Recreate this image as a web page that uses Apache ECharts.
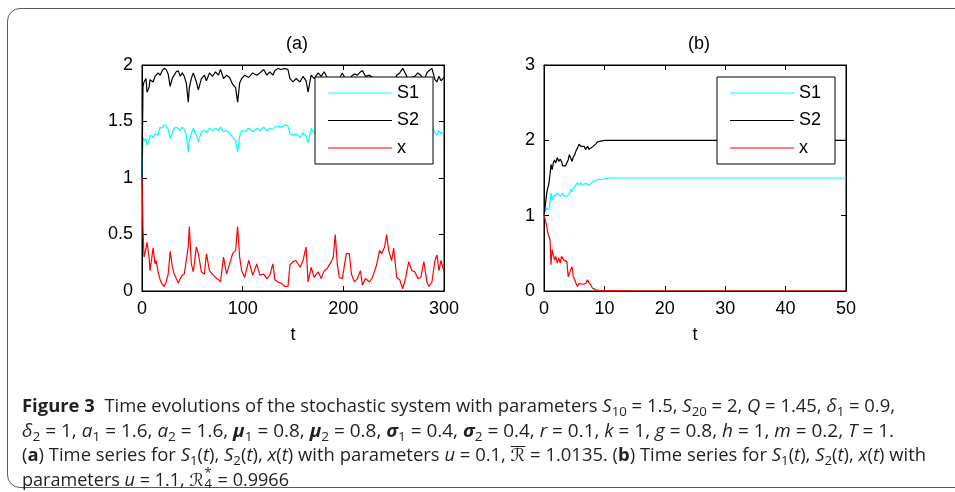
<!DOCTYPE html>
<html>
<head>
<meta charset="utf-8">
<script src="https://cdn.jsdelivr.net/npm/echarts@6.0.0/dist/echarts.min.js"></script>
<style>
  html, body { margin:0; padding:0; background:#fff; width:955px; height:492px; overflow:hidden; }
  #chart { position:absolute; left:0; top:0; width:955px; height:492px; }
  #frame { position:absolute; left:7px; top:8px; width:1000px; height:480px; border:1.5px solid #5a5a5a; border-radius:13px; box-sizing:border-box; }
  .cap { position:absolute; left:22px; white-space:nowrap; font-family:"Open Sans","DejaVu Sans",sans-serif; font-size:17.5px; color:#231f20; transform-origin:0 50%; line-height:20px; }
  .cap sub { font-size:0.72em; vertical-align:-0.3em; line-height:0; }
  .ss { display:inline-block; position:relative; width:0.5em; height:1em; }
  .ss .up { position:absolute; left:0.05em; top:-0.1em; font-size:0.72em; line-height:1; }
  .ss .dn { position:absolute; left:0.05em; top:0.78em; font-size:0.72em; line-height:1; }
  .ol { display:inline-block; position:relative; line-height:1; }
  .ol::before { content:""; position:absolute; left:0.02em; right:0.02em; top:-0.08em; border-top:1.6px solid #231f20; }
  .scr { font-family:"DejaVu Sans",sans-serif; font-style:italic; }
</style>
</head>
<body>
<div id="frame"></div>
<div id="chart"></div>
<div class="cap" data-w="873" style="top:395px"><b>Figure 3</b>&nbsp; Time evolutions of the stochastic system with parameters <i>S</i><sub>10</sub> = 1.5, <i>S</i><sub>20</sub> = 2, <i>Q</i> = 1.45, <i>δ</i><sub>1</sub> = 0.9,</div>
<div class="cap" data-w="872" style="top:420px"><i>δ</i><sub>2</sub> = 1, <i>a</i><sub>1</sub> = 1.6, <i>a</i><sub>2</sub> = 1.6, <b><i>μ</i></b><sub>1</sub> = 0.8, <b><i>μ</i></b><sub>2</sub> = 0.8, <b><i>σ</i></b><sub>1</sub> = 0.4, <b><i>σ</i></b><sub>2</sub> = 0.4, <i>r</i> = 0.1, <i>k</i> = 1, <i>g</i> = 0.8, <i>h</i> = 1, <i>m</i> = 0.2, <i>T</i> = 1.</div>
<div class="cap" data-w="904" style="top:444px">(<b>a</b>) Time series for <i>S</i><sub>1</sub>(<i>t</i>), <i>S</i><sub>2</sub>(<i>t</i>), <i>x</i>(<i>t</i>) with parameters <i>u</i> = 0.1, <span class="ol scr">ℛ</span> = 1.0135. (<b>b</b>) Time series for <i>S</i><sub>1</sub>(<i>t</i>), <i>S</i><sub>2</sub>(<i>t</i>), <i>x</i>(<i>t</i>) with</div>
<div class="cap" data-w="267" style="top:468px">parameters <i>u</i> = 1.1, <span class="scr">ℛ</span><span class="ss"><span class="up">*</span><span class="dn">4</span></span> = 0.9966</div>
<script>
// ---------- Panel (a) data ----------
const tA = [0,1,2,4,5,7,8,11,13,14,
  16,18,20,22,24,26,28,30,32,34,
  36,38,40,42,44,46,47,49,51,54,
  56,59,62,64,67,70,73,76,78,81,
  84,87,90,93,95,97,99,102,106,110,
  114,117,121,124,127,130,132,135,138,142,
  145,147,150,153,157,160,163,165,168,171,
  175,178,181,184,188,190,192,194,196,199,
  203,206,208,211,214,217,219,222,226,229,
  233,236,238,241,243,245,248,250,253,256,
  259,262,265,268,271,274,277,280,283,285,
  288,291,293,295,297,300];
const s1A = [1.0,1.36,1.33,1.35,1.29,1.33,1.38,1.36,1.39,1.40,
  1.38,1.45,1.44,1.47,1.46,1.43,1.35,1.40,1.44,1.45,
  1.44,1.42,1.45,1.43,1.38,1.23,1.33,1.39,1.44,1.38,
  1.32,1.41,1.42,1.40,1.44,1.42,1.44,1.42,1.45,1.41,
  1.42,1.40,1.36,1.33,1.23,1.37,1.42,1.41,1.44,1.41,
  1.44,1.42,1.45,1.42,1.44,1.43,1.45,1.46,1.45,1.47,
  1.46,1.39,1.38,1.39,1.36,1.40,1.37,1.31,1.44,1.40,
  1.43,1.41,1.44,1.40,1.38,1.36,1.28,1.37,1.40,1.44,
  1.38,1.37,1.41,1.43,1.42,1.44,1.45,1.41,1.42,1.40,
  1.37,1.33,1.35,1.32,1.28,1.33,1.36,1.33,1.42,1.44,
  1.47,1.43,1.38,1.40,1.41,1.43,1.42,1.38,1.43,1.45,
  1.46,1.40,1.38,1.42,1.39,1.42];
const s2A = [1.0,1.81,1.85,1.88,1.76,1.80,1.87,1.85,1.90,1.91,
  1.93,1.91,1.95,1.97,1.96,1.92,1.81,1.88,1.91,1.94,
  1.95,1.90,1.93,1.90,1.84,1.67,1.80,1.88,1.93,1.85,
  1.78,1.88,1.91,1.86,1.93,1.90,1.94,1.91,1.96,1.88,
  1.91,1.89,1.83,1.80,1.67,1.84,1.88,1.91,1.89,1.93,
  1.91,1.93,1.96,1.91,1.94,1.91,1.95,1.97,1.96,1.97,
  1.96,1.88,1.85,1.88,1.85,1.90,1.86,1.76,1.91,1.88,
  1.93,1.90,1.94,1.89,1.87,1.84,1.74,1.84,1.88,1.93,
  1.86,1.85,1.90,1.92,1.91,1.94,1.95,1.90,1.91,1.89,
  1.85,1.80,1.82,1.79,1.74,1.80,1.84,1.81,1.91,1.93,
  1.97,1.92,1.86,1.89,1.90,1.93,1.91,1.86,1.93,1.95,
  1.97,1.87,1.85,1.90,1.86,1.89];
const xA = [1.0,0.55,0.30,0.38,0.43,0.30,0.18,0.38,0.24,0.27,
  0.17,0.10,0.06,0.04,0.08,0.15,0.35,0.22,0.15,0.11,
  0.07,0.11,0.14,0.15,0.27,0.40,0.57,0.24,0.17,0.39,
  0.33,0.17,0.15,0.33,0.18,0.15,0.12,0.10,0.08,0.30,
  0.15,0.24,0.33,0.36,0.57,0.30,0.18,0.12,0.27,0.14,
  0.24,0.14,0.15,0.11,0.14,0.24,0.10,0.08,0.07,0.04,
  0.04,0.23,0.26,0.27,0.21,0.27,0.39,0.08,0.21,0.12,
  0.17,0.11,0.18,0.20,0.26,0.30,0.50,0.24,0.12,0.11,
  0.33,0.33,0.15,0.08,0.11,0.18,0.05,0.11,0.08,0.12,
  0.23,0.36,0.33,0.39,0.50,0.36,0.27,0.38,0.12,0.10,
  0.02,0.12,0.26,0.18,0.17,0.11,0.12,0.26,0.08,0.04,
  0.08,0.27,0.32,0.18,0.27,0.17];

// ---------- Panel (b) data ----------
const tB = [0,0.2,0.45,0.6,0.8,1.0,1.15,1.35,1.55,1.75,
  1.95,2.2,2.45,2.7,2.9,3.1,3.3,3.55,3.8,4.0,
  4.2,4.4,4.65,4.85,5.1,5.3,5.55,5.8,6.1,6.35,
  6.65,6.9,7.2,7.45,7.75,8.0,8.3,8.55,8.85,9.1,
  9.4,10,11,12,13,14,15,20,30,40,
  50];
const s1B = [1.0,1.06,1.10,1.12,1.08,1.18,1.30,1.21,1.27,1.28,
  1.26,1.30,1.28,1.26,1.27,1.30,1.26,1.25,1.26,1.27,
  1.29,1.35,1.32,1.36,1.38,1.41,1.44,1.41,1.44,1.41,
  1.41,1.43,1.41,1.40,1.41,1.44,1.46,1.47,1.48,1.48,
  1.49,1.49,1.50,1.50,1.50,1.50,1.50,1.50,1.50,1.50,
  1.50];
const s2B = [1.0,1.12,1.30,1.36,1.42,1.55,1.68,1.61,1.70,1.74,
  1.70,1.77,1.72,1.75,1.72,1.66,1.67,1.66,1.68,1.74,
  1.81,1.77,1.72,1.78,1.81,1.86,1.90,1.95,1.92,1.90,
  1.92,1.88,1.92,1.88,1.87,1.91,1.93,1.95,1.98,1.98,
  1.99,2.0,2.0,2.0,2.0,2.0,2.0,2.0,2.0,2.0,
  2.0];
const xB = [1.0,0.95,0.86,0.78,0.77,0.68,0.35,0.55,0.57,0.41,
  0.46,0.37,0.44,0.37,0.46,0.44,0.41,0.42,0.39,0.19,
  0.21,0.28,0.32,0.19,0.15,0.10,0.06,0.10,0.12,0.09,
  0.11,0.10,0.15,0.11,0.08,0.04,0.02,0.015,0.01,0.01,
  0.008,0.005,0.004,0.003,0.002,0.001,0,0,0,0,
  0];

// ---------- Ticks / labels ----------
const ticksAX = [0,100,200,300];
const ticksAY = [0,0.5,1,1.5,2];
const ticksBX = [0,10,20,30,40,50];
const ticksBY = [0,1,2,3];
const seriesNames = ['S1','S2','x'];
const panelTitles = ['(a)','(b)'];
const axisName = 't';

const FONT = '"Liberation Sans", Arial, Helvetica, sans-serif';
const COLORS = ['#00ffff','#000000','#ff0000'];

function xAx(grid, ticks, pos, main) {
  return {
    gridIndex: grid, type:'value', position: pos,
    min: ticks[0], max: ticks[ticks.length-1], interval: ticks[1]-ticks[0],
    axisLine:{show:true, onZero:false, lineStyle:{color:'#000', width:1}},
    axisTick:{show:true, inside:true, length:5, lineStyle:{color:'#000', width:1}},
    axisLabel:{show: main, color:'#000', fontSize:18, fontFamily:FONT, margin:9},
    splitLine:{show:false},
    name: main ? axisName : '', nameLocation:'middle', nameGap:35,
    nameTextStyle:{color:'#000', fontSize:18, fontFamily:FONT}
  };
}
function yAx(grid, ticks, pos, main) {
  return {
    gridIndex: grid, type:'value', position: pos,
    min: ticks[0], max: ticks[ticks.length-1], interval: ticks[1]-ticks[0],
    axisLine:{show:true, onZero:false, lineStyle:{color:'#000', width:1}},
    axisTick:{show:true, inside:true, length:5, lineStyle:{color:'#000', width:1}},
    axisLabel:{show: main, color:'#000', fontSize:18, fontFamily:FONT, margin:9},
    splitLine:{show:false}
  };
}
function mk(name, t, v, xi, yi, ci) {
  return {
    name, type:'line', xAxisIndex:xi, yAxisIndex:yi,
    data: t.map((tt,i)=>[tt, v[i]]),
    symbol:'none', showSymbol:false, smooth:false,
    lineStyle:{color:COLORS[ci], width:1.2}, itemStyle:{color:COLORS[ci]},
    z: 2, animation:false
  };
}
function legendAt(left) {
  return {
    data: seriesNames, orient:'vertical', left:left, top:77,
    icon:'rect',
    backgroundColor:'#fff', borderColor:'#000', borderWidth:1,
    padding:[7,14,7,13], itemWidth:64, itemHeight:1.2, itemGap:9.5,
    textStyle:{color:'#000', fontSize:18, fontFamily:FONT, lineHeight:18},
    selectedMode:false, z:10
  };
}

const chart = echarts.init(document.getElementById('chart'), null, {renderer:'canvas'});
chart.setOption({
  animation:false,
  backgroundColor:'transparent',
  title:[
    {text:panelTitles[0], left:292, top:30, textAlign:'center', textStyle:{fontSize:18, fontWeight:'normal', fontFamily:FONT, color:'#000'}},
    {text:panelTitles[1], left:694, top:30, textAlign:'center', textStyle:{fontSize:18, fontWeight:'normal', fontFamily:FONT, color:'#000'}}
  ],
  grid:[
    {left:142, top:65, width:302, height:226, show:true, borderColor:'#000', borderWidth:1, backgroundColor:'#fff'},
    {left:544, top:65, width:302, height:226, show:true, borderColor:'#000', borderWidth:1, backgroundColor:'#fff'}
  ],
  xAxis:[ xAx(0,ticksAX,'bottom',true), xAx(0,ticksAX,'top',false), xAx(1,ticksBX,'bottom',true), xAx(1,ticksBX,'top',false) ],
  yAxis:[ yAx(0,ticksAY,'left',true), yAx(0,ticksAY,'right',false), yAx(1,ticksBY,'left',true), yAx(1,ticksBY,'right',false) ],
  legend:[ legendAt(315), legendAt(717) ],
  series:[
    mk(seriesNames[0], tA, s1A, 0, 0, 0),
    mk(seriesNames[1], tA, s2A, 0, 0, 1),
    mk(seriesNames[2], tA, xA, 0, 0, 2),
    mk(seriesNames[0], tB, s1B, 2, 2, 0),
    mk(seriesNames[1], tB, s2B, 2, 2, 1),
    mk(seriesNames[2], tB, xB, 2, 2, 2)
  ]
});

// fit caption lines to the reference widths
document.querySelectorAll('.cap').forEach(el => {
  const w = el.getBoundingClientRect().width;
  const target = +el.getAttribute('data-w');
  if (w > 0) el.style.transform = 'scaleX(' + (target / w) + ')';
});
</script>
</body>
</html>
